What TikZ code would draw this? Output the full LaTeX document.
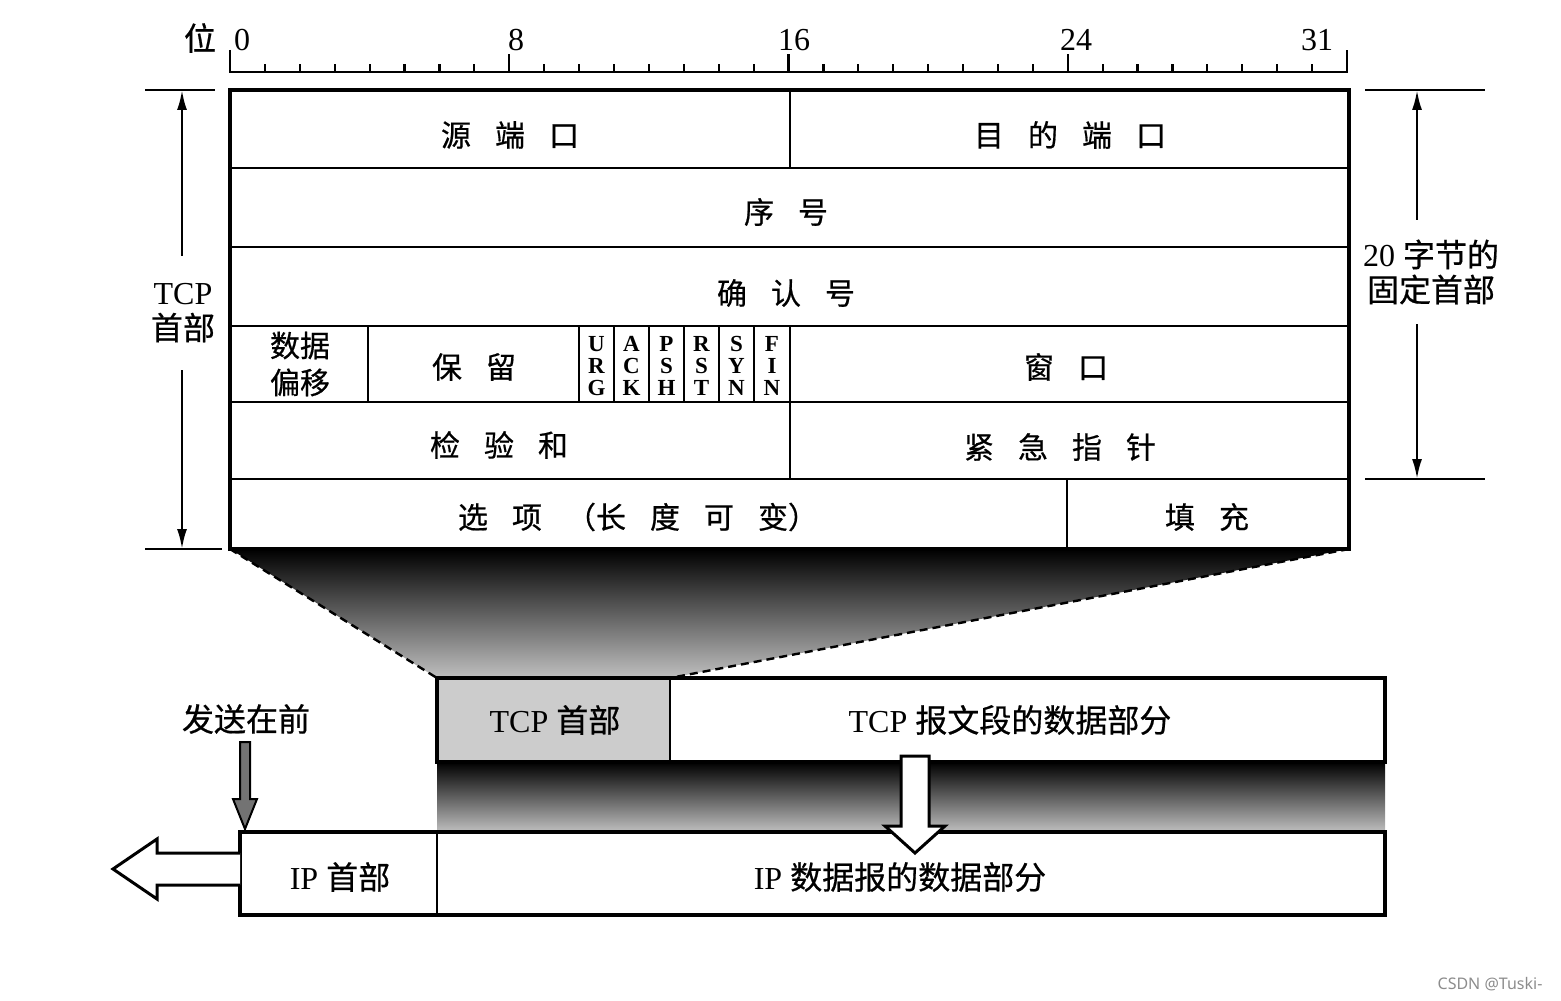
\documentclass[tikz,border=0pt]{standalone}
\usepackage{fontspec}
\setmainfont{Liberation Serif}
\newfontfamily\cjk[FakeBold=0.6]{Noto Sans CJK SC}
\newfontfamily\wmfont{Noto Sans}
\usetikzlibrary{arrows.meta}
\newcommand{\zh}[1]{{\cjk #1}}
\newcommand{\cgap}{\hspace{0.8em}}
\begin{document}
\begin{tikzpicture}[x=0.5pt,y=-0.5pt,
  thinln/.style={line width=1pt},
  thickbox/.style={line width=2pt},
  cell/.style={font=\cjk\fontsize{15}{18.5}\selectfont, inner sep=0pt, align=center},
  lab/.style={font=\fontsize{16}{17.5}\selectfont, inner sep=0pt, align=center},
  num/.style={font=\fontsize{16}{16}\selectfont, inner sep=0pt},
  flag/.style={font=\bfseries\fontsize{11.5}{11}\selectfont, align=center, inner sep=0pt},
  dimarrow/.style={line width=1.2pt, {Latex[length=10pt,width=5pt]}-{Latex[length=10pt,width=5pt]}},
  dimline/.style={line width=1.2pt},
  hollow/.style={line width=1.5pt, fill=white, line join=miter},
  fanline/.style={line width=1.2pt, dash pattern=on 4pt off 2.5pt},
]
\useasboundingbox (0,0) rectangle (1561,1000);

% ---------- shadings ----------
\shade[top color=black, middle color=black!70, bottom color=black!25]
  (230,549) -- (1349,549) -- (670,678) -- (437,678) -- cycle;
\shade[top color=black, middle color=black!62, bottom color=black!25]
  (437,762) rectangle (1385,832);
\draw[fanline] (230,549) -- (437,678);
\draw[fanline] (1349,549) -- (670,678);

% ---------- ruler ----------
\draw[line width=1.2pt] (230,50) -- (230,72) -- (1347,72) -- (1347,50);
\foreach \i in {1,...,31}{
  \draw[line width=1.1pt] ({230+\i*34.906},72) -- ({230+\i*34.906},64);
}
\foreach \i in {8,16,24}{
  \draw[line width=1.1pt] ({230+\i*34.906},72) -- ({230+\i*34.906},54);
}
\node[num] (bitw) at (200,38) {\zh{位}};
\node[num] (b0)  at (242,40) {0};
\node[num] (b8)  at (516,40) {8};
\node[num] (b16) at (794,40) {16};
\node[num] (b24) at (1076,40) {24};
\node[num] (b31) at (1317,40) {31};

% ---------- TCP header box ----------
\draw[thickbox] (230,90) rectangle (1349,549);
\foreach \yy in {168,247,326,402,479}{
  \draw[thinln] (230,\yy) -- (1349,\yy);
}
\draw[thinln] (790,90) -- (790,168);
\draw[thinln] (790,326) -- (790,479);
\draw[thinln] (368,326) -- (368,402);
\foreach \xx in {579,614,649,684,719,754}{
  \draw[thinln] (\xx,326) -- (\xx,402);
}
\draw[thinln] (1067,479) -- (1067,549);

\node[cell] (src) at (510,135) {源\cgap 端\cgap 口};
\node[cell] (dst) at (1070,135) {目\cgap 的\cgap 端\cgap 口};
\node[cell] (seq) at (786,212) {序\cgap 号};
\node[cell] (ack) at (786,293) {确\cgap 认\cgap 号};
\node[cell] (off) at (300,364) {数据\\偏移};
\node[cell] (rsv) at (474,367) {保\cgap 留};
\node[flag] (furg) at (596.5,366) {U\\R\\G};
\node[flag] (fack) at (631.5,366) {A\\C\\K};
\node[flag] (fpsh) at (666.5,366) {P\\S\\H};
\node[flag] (frst) at (701.5,366) {R\\S\\T};
\node[flag] (fsyn) at (736.5,366) {S\\Y\\N};
\node[flag] (ffin) at (772,366) {F\\I\\N};
\node[cell] (win) at (1066,367) {窗\cgap 口};
\node[cell] (chk) at (499,445) {检\cgap 验\cgap 和};
\node[cell] (urp) at (1060,447) {紧\cgap 急\cgap 指\cgap 针};
\node[cell] (opt) at (638,517) {选\cgap 项\cgap （长\cgap 度\cgap 可\cgap 变）};
\node[cell] (pad) at (1207,517) {填\cgap 充};

% ---------- left dimension ----------
\coordinate (lt) at (182,90);
\coordinate (lb) at (182,549);
\draw[dimline] (145,90) -- (215,90);
\draw[dimline] (145,549) -- (222,549);
\draw[dimarrow] (lt) -- (lb);
\node[lab, fill=white, inner ysep=14pt, inner xsep=3pt] (tcplab) at (183,313) {TCP\\\zh{首部}};

% ---------- right dimension ----------
\coordinate (rt) at (1417,90);
\coordinate (rb) at (1417,479);
\draw[dimline] (1365,90) -- (1485,90);
\draw[dimline] (1365,479) -- (1485,479);
\draw[dimarrow] (rt) -- (rb);
\node[lab, fill=white, inner ysep=10pt, inner xsep=3pt] (fixlab) at (1431,272) {20 \zh{字节的}\\\zh{固定首部}};

% ---------- TCP segment ----------
\fill[black!20] (437,678) rectangle (670,762);
\draw[thickbox] (437,678) rectangle (1385,762);
\draw[thinln] (670,678) -- (670,762);
\node[lab] (tcph) at (555,720) {TCP \zh{首部}};
\node[lab] (tcpd) at (1010,720) {TCP \zh{报文段的数据部分}};

% ---------- IP datagram ----------
\draw[thickbox] (240,832) rectangle (1385,915);
\draw[thinln] (437,832) -- (437,915);
\node[lab] (iph) at (340,877) {IP \zh{首部}};
\node[lab] (ipd) at (900,877) {IP \zh{数据报的数据部分}};

% ---------- big white down arrow ----------
\draw[hollow] (901,756) -- (929,756) -- (929,826) -- (945,826) -- (915,853)
  -- (885,826) -- (901,826) -- cycle;

% ---------- left hollow arrow ----------
\draw[hollow] (240,853) -- (157,853) -- (157,839) -- (113,869) -- (157,899)
  -- (157,885) -- (240,885);

% ---------- send-first arrow ----------
\node[lab] (sendf) at (246,719) {\zh{发送在前}};
\draw[line width=1pt, fill=black!55] (240,742) -- (250,742) -- (250,799) -- (257,799)
  -- (245,829) -- (233,799) -- (240,799) -- cycle;

% ---------- watermark ----------
\node[font=\wmfont\fontsize{8}{9}\selectfont, text=black!45, inner sep=0pt] (wm) at (1490,984) {CSDN @Tuski-};
\end{tikzpicture}
\end{document}
